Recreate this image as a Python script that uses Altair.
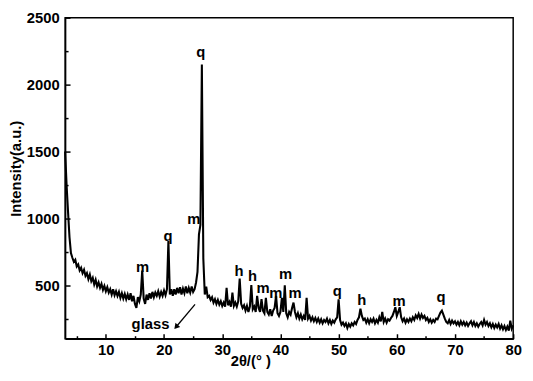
import altair as alt
import pandas as pd

FONT = "Liberation Sans"

intensity = [
    1500, 1250, 1050, 860,   # 3
    740, 705, 675, 690,      # 4
    640, 655, 610, 630,      # 5
    590, 615, 570, 590,      # 6
    545, 580, 530, 555,      # 7
    505, 540, 490, 520,      # 8
    480, 510, 465, 495,      # 9
    455, 485, 445, 470,      # 10
    430, 470, 425, 455,      # 11
    420, 450, 405, 440,      # 12
    400, 435, 395, 430,      # 13
    390, 440, 380, 420,      # 14
    360, 330, 410, 380,      # 15
    430, 610, 400, 360,      # 16
    430, 390, 440, 400,      # 17
    450, 410, 445, 420,      # 18
    455, 415, 450, 420,      # 19
    460, 425, 470, 830,      # 20
    430, 470, 420, 470,      # 21
    430, 480, 440, 485,      # 22
    430, 475, 440, 490,      # 23
    440, 480, 445, 490,      # 24
    450, 470, 520, 600,      # 25
    880, 950, 2150, 700,     # 26
    430, 490, 410, 420,      # 27
    390, 410, 370, 395,      # 28
    360, 390, 355, 380,      # 29
    345, 370, 340, 480,      # 30
    350, 375, 340, 445,      # 31
    345, 370, 340, 380,      # 32
    550, 360, 330, 350,      # 33
    310, 345, 300, 340,      # 34
    500, 320, 340, 300,      # 35
    420, 330, 300, 395,      # 36
    310, 290, 405, 300,      # 37
    280, 320, 270, 310,      # 38
    330, 420, 290, 270,      # 39
    300, 405, 300, 500,      # 40
    290, 260, 300, 280,      # 41
    330, 370, 300, 260,      # 42
    290, 250, 280, 245,      # 43
    270, 240, 405, 250,      # 44
    270, 235, 260, 230,      # 45
    255, 225, 250, 220,      # 46
    245, 215, 240, 225,      # 47
    250, 215, 240, 210,      # 48
    235, 220, 245, 260,      # 49
    395, 240, 205, 220,      # 50
    195, 215, 180, 210,      # 51
    190, 215, 200, 225,      # 52
    210, 240, 260, 325,      # 53
    270, 240, 250, 220,      # 54
    245, 215, 245, 225,      # 55
    250, 215, 240, 220,      # 56
    260, 230, 300, 225,      # 57
    250, 220, 245, 235,      # 58
    255, 270, 300, 335,      # 59
    270, 300, 335, 260,      # 60
    230, 250, 220, 245,      # 61
    225, 250, 230, 260,      # 62
    240, 275, 255, 285,      # 63
    250, 280, 255, 270,      # 64
    240, 255, 225, 245,      # 65
    220, 240, 225, 250,      # 66
    245, 270, 295, 310,      # 67
    280, 250, 225, 215,      # 68
    240, 210, 235, 215,      # 69
    230, 205, 225, 200,      # 70
    230, 205, 225, 200,      # 71
    220, 195, 215, 230,      # 72
    200, 225, 195, 215,      # 73
    190, 210, 225, 200,      # 74
    240, 205, 225, 195,      # 75
    215, 185, 210, 180,      # 76
    205, 185, 210, 175,      # 77
    200, 170, 195, 165,      # 78
    190, 160, 235, 175,      # 79
    200,                     # 80
]
two_theta = [round(3 + 0.25 * i, 2) for i in range(len(intensity))]

# Phase labels
ann_x = [16.3, 20.7, 25.1, 26.3, 32.9, 35.2, 37.0, 39.2, 40.9, 42.5, 49.75, 54.0, 60.4, 67.6]
ann_y = [639, 864, 996, 2240, 604, 568, 475, 439, 582, 439, 457, 389, 382, 411]
ann_text = ["m", "q", "m", "q", "h", "h", "m", "m", "m", "m", "q", "h", "m", "q"]

glass_x = [17.67]
glass_y = [207]
glass_text = ["glass"]

arrow_start = [25.33, 357]
arrow_end = [22.17, 193]

x_major = [10, 20, 30, 40, 50, 60, 70, 80]
x_minor = [5, 15, 25, 35, 45, 55, 65, 75]
y_major = [500, 1000, 1500, 2000, 2500]
y_minor = [250, 750, 1250, 1750, 2250]

df = pd.DataFrame({"theta": two_theta, "I": intensity})
ann_df = pd.DataFrame({"x": ann_x, "y": ann_y, "label": ann_text})
glass_df = pd.DataFrame({"x": glass_x, "y": glass_y, "label": glass_text})
arrow_df = pd.DataFrame({"x1": [arrow_start[0]], "y1": [arrow_start[1]],
                         "x2": [arrow_end[0]], "y2": [arrow_end[1]]})
head_df = pd.DataFrame({"x": [arrow_end[0]], "y": [arrow_end[1]]})

x_scale = alt.Scale(domain=[3, 80], nice=False, zero=False)
y_scale = alt.Scale(domain=[100, 2500], nice=False, zero=False)

main = alt.Chart(df).mark_line(color="black", strokeWidth=2.1).encode(
    x=alt.X("theta:Q", scale=x_scale, axis=alt.Axis(
        orient="bottom", values=x_major, format="d", ticks=False, tickSize=0, grid=False,
        domain=True, domainColor="black", domainWidth=1.5,
        labelFont=FONT, labelFontSize=15, labelFontWeight="bold", labelColor="black",
        labelPadding=4, labelFlush=False, labelOverlap=False,
        title="2θ/(° )", titleFont=FONT, titleFontSize=15, titleFontWeight="bold",
        titleColor="black", titleX=188, titleY=27, titleBaseline="alphabetic",
        titleAlign="center")),
    y=alt.Y("I:Q", scale=y_scale, axis=alt.Axis(
        orient="left", values=y_major, format="d", ticks=False, tickSize=0, grid=False,
        domain=True, domainColor="black", domainWidth=1.5,
        labelFont=FONT, labelFontSize=15, labelFontWeight="bold", labelColor="black",
        labelPadding=6, labelFlush=False, labelOverlap=False,
        title="Intensity(a.u.)", titleFont=FONT, titleFontSize=15, titleFontWeight="bold",
        titleColor="black", titleX=-50, titleY=153, titleAngle=270,
        titleBaseline="middle", titleAlign="center")),
)

major_ticks = alt.Chart(df).mark_point(opacity=0).encode(
    x=alt.X("theta:Q", scale=x_scale, axis=alt.Axis(
        orient="bottom", values=x_major, labels=False, domain=False, grid=False,
        ticks=True, tickSize=5, tickWidth=1.5, tickColor="black", offset=-5, title=None)),
    y=alt.Y("I:Q", scale=y_scale, axis=alt.Axis(
        orient="left", values=y_major, labels=False, domain=False, grid=False,
        ticks=True, tickSize=5, tickWidth=1.5, tickColor="black", offset=-5, title=None)),
)

minor_ticks = alt.Chart(df).mark_point(opacity=0).encode(
    x=alt.X("theta:Q", scale=x_scale, axis=alt.Axis(
        orient="bottom", values=x_minor, labels=False, domain=False, grid=False,
        ticks=True, tickSize=3, tickWidth=1.5, tickColor="black", offset=-3, title=None)),
    y=alt.Y("I:Q", scale=y_scale, axis=alt.Axis(
        orient="left", values=y_minor, labels=False, domain=False, grid=False,
        ticks=True, tickSize=3, tickWidth=1.5, tickColor="black", offset=-3, title=None)),
)

labels = alt.Chart(ann_df).mark_text(
    font=FONT, fontSize=15, fontWeight="bold", color="black",
    align="center", baseline="middle").encode(
    x=alt.X("x:Q", axis=None), y=alt.Y("y:Q", axis=None), text="label:N")

glass = alt.Chart(glass_df).mark_text(
    font=FONT, fontSize=15, fontWeight="bold", color="black",
    align="center", baseline="middle").encode(
    x=alt.X("x:Q", axis=None), y=alt.Y("y:Q", axis=None), text="label:N")

arrow = alt.Chart(arrow_df).mark_rule(color="black", strokeWidth=1.3).encode(
    x=alt.X("x1:Q", axis=None), y=alt.Y("y1:Q", axis=None), x2="x2:Q", y2="y2:Q")

head = alt.Chart(head_df).mark_point(
    shape="triangle", filled=True, size=40, angle=220, color="black", opacity=1).encode(
    x=alt.X("x:Q", axis=None), y=alt.Y("y:Q", axis=None))

chart = alt.layer(main, major_ticks, minor_ticks, labels, glass, arrow, head).resolve_axis(
    x="independent", y="independent"
).properties(
    width=455, height=326,
    autosize=alt.AutoSizeParams(type="none"),
    padding={"left": 58, "top": 7, "right": 12, "bottom": 30},
).configure_view(stroke="black", strokeWidth=1.5)

chart.save("out.html", embed_options={"renderer": "svg", "actions": False})
